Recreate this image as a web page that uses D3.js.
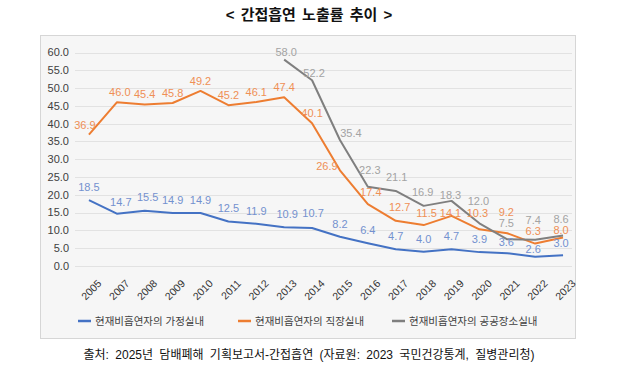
<!DOCTYPE html>
<html>
<head>
<meta charset="utf-8">
<script src="https://cdn.jsdelivr.net/npm/d3@7"></script>
<style>
  body { margin: 0; background: #fff; }
  svg { display: block; font-family: "Liberation Sans", Arial, "Noto Sans CJK KR", sans-serif; }
</style>
</head>
<body>
<svg id="chart" width="618" height="377"></svg>
<script>
const years = ['2005', '2007', '2008', '2009', '2010', '2011', '2012', '2013', '2014',
    '2015', '2016', '2017', '2018', '2019', '2020', '2021', '2022', '2023'];

const homeValues = [18.5, 14.7, 15.5, 14.9, 14.9, 12.5, 11.9, 10.9, 10.7,
    8.2, 6.4, 4.7, 4.0, 4.7, 3.9, 3.6, 2.6, 3.0];
const workValues = [36.9, 46.0, 45.4, 45.8, 49.2, 45.2, 46.1, 47.4, 40.1,
    26.9, 17.4, 12.7, 11.5, 14.1, 10.3, 9.2, 6.3, 8.0];
// public places series starts in 2013
const publicYears = ['2013', '2014', '2015', '2016', '2017', '2018', '2019', '2020', '2021', '2022', '2023'];
const publicValues = [58.0, 52.2, 35.4, 22.3, 21.1, 16.9, 18.3, 12.0, 7.5, 7.4, 8.6];

const yTicks = [0, 5, 10, 15, 20, 25, 30, 35, 40, 45, 50, 55, 60];
const seriesNames = ['현재비흡연자의 가정실내', '현재비흡연자의 직장실내', '현재비흡연자의 공공장소실내'];

const title = '< 간접흡연 노출률 추이 >';
const source = '출처: 2025년 담배폐해 기획보고서-간접흡연 (자료원: 2023 국민건강통계, 질병관리청)';

const svg = d3.select('#chart');

const series = [
    { key: 'home', name: seriesNames[0], years: years, values: homeValues,
      line: '#4472c4', label: '#7391cf', dy: -13 },
    { key: 'work', name: seriesNames[1], years: years, values: workValues,
      line: '#ed7d31', label: '#ef8f55', dy: -10 },
    { key: 'public', name: seriesNames[2], years: publicYears, values: publicValues,
      line: '#7f7f7f', label: '#a3a3a3', dy: -8 }
];

// hand placed label offsets (like the original), [dx, dy] of label centre from the point
const labelNudge = {
    'home-2007': [4, -12], 'home-2008': [3, -14], 'home-2013': [3, -13], 'home-2014': [1, -15],
    'home-2022': [-2, -8], 'home-2023': [-2, -12], 'home-2021': [-1, -11],
    'work-2005': [-4, -10], 'work-2007': [3, -10], 'work-2015': [-13, -4],
    'work-2016': [3, -12], 'work-2017': [4, -14], 'work-2018': [3, -12],
    'work-2019': [-1, -3], 'work-2020': [-2, -16], 'work-2021': [-1, -21],
    'work-2022': [-2, -12], 'work-2023': [-2, -7],
    'public-2013': [2, -7], 'public-2014': [2, -7], 'public-2015': [11, -7],
    'public-2016': [2, -16], 'public-2017': [1, -14], 'public-2018': [-1, -14],
    'public-2019': [-1, -6], 'public-2020': [-1, -22], 'public-2021': [-1, -16],
    'public-2022': [-2, -20], 'public-2023': [-2, -16]
};

// frame
svg.append('rect')
    .attr('x', 40.5).attr('y', 35.5)
    .attr('width', 535).attr('height', 303)
    .attr('fill', '#f6f6f6')
    .attr('stroke', '#d6d6d6');

svg.append('text')
    .attr('x', 309).attr('y', 20)
    .attr('text-anchor', 'middle')
    .attr('font-size', 15).attr('font-weight', 'bold')
    .attr('word-spacing', 2)
    .attr('fill', '#111')
    .text(title);

const x = d3.scalePoint().domain(years).range([75, 577]).padding(0.5);
const y = d3.scaleLinear().domain([0, 60]).range([266, 52.5]);

// grid + y labels
const grid = svg.append('g');
grid.selectAll('line').data(yTicks).enter().append('line')
    .attr('x1', 75).attr('x2', 572)
    .attr('y1', d => Math.round(y(d)) + 0.5).attr('y2', d => Math.round(y(d)) + 0.5)
    .attr('stroke', '#e2e2e2');
grid.selectAll('text').data(yTicks).enter().append('text')
    .attr('x', 69).attr('y', d => y(d))
    .attr('dy', '0.35em')
    .attr('text-anchor', 'end')
    .attr('font-size', 11).attr('fill', '#404040')
    .text(d => d3.format('.1f')(d));

// x labels, rotated
svg.append('g').selectAll('text').data(years).enter().append('text')
    .attr('transform', d => `translate(${x(d) + 8},${279}) rotate(-45)`)
    .attr('text-anchor', 'end')
    .attr('dy', '0.7em')
    .attr('font-size', 10.5).attr('fill', '#333')
    .text(d => d);

const line = d3.line()
    .x(d => x(d.year))
    .y(d => y(d.value));

const points = s => s.years.map((year, i) => ({ year, value: s.values[i], key: s.key }));

svg.append('g').selectAll('path').data(series).enter().append('path')
    .attr('d', s => line(points(s)))
    .attr('fill', 'none')
    .attr('stroke', s => s.line)
    .attr('stroke-width', 2)
    .attr('stroke-linejoin', 'round');

const labelGroups = svg.append('g').selectAll('g').data(series).enter().append('g')
    .attr('fill', s => s.label);

labelGroups.selectAll('text').data(s => points(s).map(p => Object.assign(p, { dy: s.dy })))
    .enter().append('text')
    .attr('x', d => x(d.year) + (labelNudge[d.key + '-' + d.year] || [0, d.dy])[0])
    .attr('y', d => y(d.value) + (labelNudge[d.key + '-' + d.year] || [0, d.dy])[1])
    .attr('dy', '0.35em')
    .attr('text-anchor', 'middle')
    .attr('font-size', 11)
    .text(d => d3.format('.1f')(d.value));

// legend
const legendX = [78, 238, 392];
const legend = svg.append('g').selectAll('g').data(series).enter().append('g')
    .attr('transform', (s, i) => `translate(${legendX[i]},321)`);
legend.append('line')
    .attr('x1', 0).attr('x2', 13)
    .attr('stroke', s => s.line).attr('stroke-width', 2.5);
legend.append('text')
    .attr('x', 17).attr('dy', '0.35em')
    .attr('font-size', 10.5).attr('fill', '#404040')
    .text(s => s.name);

svg.append('text')
    .attr('x', 309).attr('y', 359)
    .attr('text-anchor', 'middle')
    .attr('font-size', 12).attr('fill', '#111')
    .attr('word-spacing', 3)
    .text(source);
</script>
</body>
</html>
